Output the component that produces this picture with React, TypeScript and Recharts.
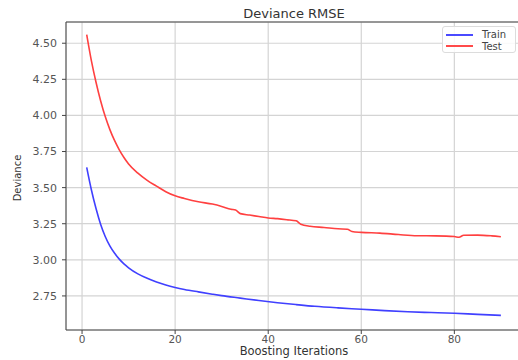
import React from 'react';
import {
  LineChart,
  Line,
  XAxis,
  YAxis,
  CartesianGrid,
  Legend,
  ReferenceLine,
} from 'recharts';

// boosting iterations
const testIters = [
  1, 2, 3, 4, 5, 6, 7, 8, 9, 10, 12, 14, 16, 18, 20, 22, 25, 28, 30, 32, 33,
  34, 36, 38, 40, 42, 44, 46, 47, 49, 52, 55, 57, 58, 60, 64, 68, 72, 76, 80,
  81, 82, 85, 88, 90,
];
const testValues = [
  4.56, 4.38, 4.23, 4.1, 3.99, 3.9, 3.825, 3.762, 3.709, 3.664, 3.6, 3.55,
  3.51, 3.472, 3.443, 3.425, 3.402, 3.386, 3.37, 3.35, 3.345, 3.32, 3.31, 3.3,
  3.29, 3.285, 3.278, 3.27, 3.247, 3.232, 3.224, 3.215, 3.212, 3.196, 3.19,
  3.185, 3.175, 3.167, 3.166, 3.161, 3.156, 3.17, 3.171, 3.166, 3.16,
];

const trainIters = [
  1, 2, 3, 4, 5, 6, 7, 8, 9, 10, 12, 14, 16, 18, 20, 22, 25, 28, 30, 34, 38,
  42, 46, 50, 55, 60, 65, 70, 75, 80, 85, 90,
];
const trainValues = [
  3.64, 3.485, 3.355, 3.245, 3.16, 3.095, 3.045, 3.005, 2.972, 2.945, 2.903,
  2.872, 2.847, 2.826, 2.809, 2.795, 2.778, 2.762, 2.752, 2.735, 2.718, 2.703,
  2.69, 2.678, 2.667, 2.658, 2.648, 2.64, 2.635, 2.63, 2.622, 2.615,
];

const xTicks = [0, 20, 40, 60, 80];
const yTicks = [2.75, 3.0, 3.25, 3.5, 3.75, 4.0, 4.25, 4.5];

const X_MIN = -3.45;
const X_MAX = 94.45;
const Y_MIN = 2.514;
const Y_MAX = 4.647;

const testData = testIters.map((iter, i) => ({ iter, test: testValues[i] }));
const trainData = trainIters.map((iter, i) => ({ iter, train: trainValues[i] }));

const FONT = '"DejaVu Sans", Verdana, sans-serif';

const renderLegend = () => (
  <div
    style={{
      width: 74,
      height: 27,
      background: 'rgba(255,255,255,0.85)',
      border: '1px solid #dcdcdc',
      borderRadius: 3,
      fontFamily: FONT,
      fontSize: 10,
      color: '#444',
      boxSizing: 'border-box',
      padding: '2px 0 0 3px',
    }}
  >
    {[
      { name: 'Train', color: '#4a4aff' },
      { name: 'Test', color: '#ff4a4a' },
    ].map((item) => (
      <div
        key={item.name}
        style={{ display: 'flex', alignItems: 'center', height: 11.5 }}
      >
        <div
          style={{ width: 27, height: 2, background: item.color, marginRight: 9 }}
        />
        <span>{item.name}</span>
      </div>
    ))}
  </div>
);

const App: React.FC = () => {
  return (
    <div
      style={{
        position: 'absolute',
        left: 0,
        top: 0,
        width: 518,
        height: 360,
        overflow: 'hidden',
        background: '#fff',
      }}
    >
      <div
        style={{
          position: 'absolute',
          left: 0,
          top: 6,
          width: 588,
          textAlign: 'center',
          fontFamily: FONT,
          fontSize: 13,
          color: '#333',
        }}
      >
        Deviance RMSE
      </div>
      <div
        style={{
          position: 'absolute',
          left: 17,
          top: 178,
          transform: 'translate(-50%, -50%) rotate(-90deg)',
          fontFamily: FONT,
          fontSize: 10,
          color: '#333',
          whiteSpace: 'nowrap',
        }}
      >
        Deviance
      </div>
      <div
        style={{
          position: 'absolute',
          left: 0,
          top: 344,
          width: 588,
          textAlign: 'center',
          fontFamily: FONT,
          fontSize: 11.5,
          color: '#333',
        }}
      >
        Boosting Iterations
      </div>
      <LineChart
        width={530}
        height={360}
        margin={{ top: 22, right: 8.4, left: 16, bottom: 0 }}
        style={{ position: 'absolute', left: 0, top: 0 }}
      >
        <CartesianGrid stroke="#d4d4d4" strokeWidth={1.2} />
        <XAxis
          type="number"
          dataKey="iter"
          domain={[X_MIN, X_MAX]}
          ticks={xTicks}
          allowDataOverflow
          height={30}
          stroke="#444"
          tickSize={4}
          tick={{ fontSize: 10.5, fill: '#555', fontFamily: FONT }}
        />
        <YAxis
          type="number"
          domain={[Y_MIN, Y_MAX]}
          ticks={yTicks}
          allowDataOverflow
          width={50}
          stroke="#444"
          tickSize={4}
          tickMargin={5}
          tickFormatter={(v: number) => v.toFixed(2)}
          tick={{ fontSize: 11, fill: '#555', fontFamily: FONT }}
        />
        <ReferenceLine y={Y_MAX} stroke="#444" strokeWidth={1} />
        <Line
          data={trainData}
          dataKey="train"
          name="Train"
          type="monotone"
          stroke="#4040ff"
          strokeWidth={1.6}
          dot={false}
          isAnimationActive={false}
        />
        <Line
          data={testData}
          dataKey="test"
          name="Test"
          type="monotone"
          stroke="#ff4040"
          strokeWidth={1.6}
          dot={false}
          isAnimationActive={false}
        />
        <Legend
          layout="vertical"
          align="center"
          verticalAlign="middle"
          content={renderLegend}
          wrapperStyle={{ position: 'absolute', left: 442, top: 26, width: 74 }}
        />
      </LineChart>
    </div>
  );
};

export default App;
